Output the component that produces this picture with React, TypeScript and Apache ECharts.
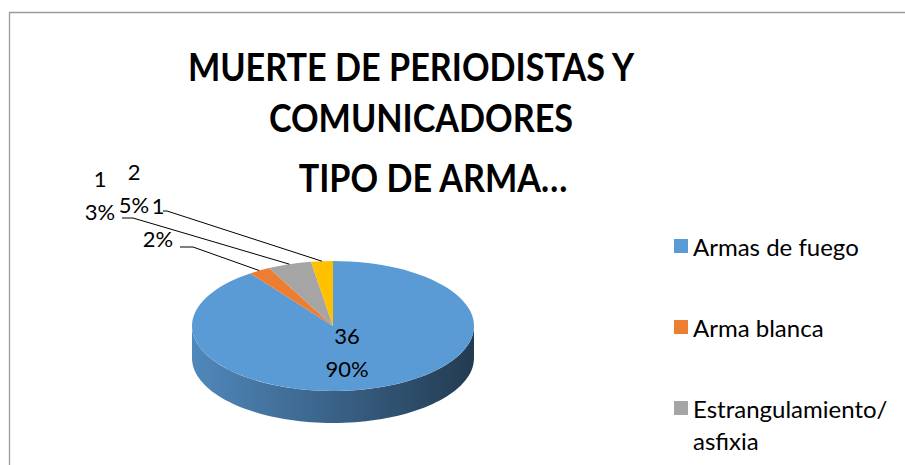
import React, { useEffect, useRef } from 'react';
import * as echarts from 'echarts';

// ---- data ----
const categories = ['Armas de fuego', 'Arma blanca', 'Estrangulamiento/asfixia', 'Otros'];
const values = [36, 1, 2, 1];
const percentLabels = ['90%', '2%', '5%', '3%'];
const colors = ['#5B9BD5', '#ED7D31', '#A5A5A5', '#FFC000'];
const legendNames = ['Armas de fuego', 'Arma blanca', 'Estrangulamiento/asfixia'];
const titleLines = ['MUERTE DE PERIODISTAS Y', 'COMUNICADORES', 'TIPO DE ARMA…'];

// ---- layout ----
const PIE = { cx: 333, cy: 326, rx: 141, ry: 65, depth: 32 };
const labelCenters: number[][] = [[347, 352], [158, 222], [134, 188], [100, 195]];
const leaderStarts: (number[][] | null)[] = [
  null,
  [[180, 247], [193, 247]],
  [[122, 218], [133, 218]],
  [[163, 211], [167, 211]],
];
const titlePos: number[][] = [[411, 66], [421, 117], [433, 177]];

function shade(hex: string, f: number): string {
  const h = hex.replace('#', '');
  const r = Math.round(parseInt(h.slice(0, 2), 16) * f);
  const g = Math.round(parseInt(h.slice(2, 4), 16) * f);
  const b = Math.round(parseInt(h.slice(4, 6), 16) * f);
  return 'rgb(' + r + ',' + g + ',' + b + ')';
}

function makeRender(i: number) {
  return (_params: any, api: any) => {
    const total = values.reduce((s, v) => s + v, 0);
    const before = values.slice(0, i).reduce((s, v) => s + v, 0);
    const v = api.value(0);
    const a0 = -Math.PI / 2 + (2 * Math.PI * before) / total;
    const a1 = a0 + (2 * Math.PI * v) / total;
    const children: any[] = [];
    const lo = Math.max(a0, 0);
    const hi = Math.min(a1, Math.PI);
    const c = colors[i];
    if (hi > lo) {
      const pts: number[][] = [];
      const n = 80;
      for (let k = 0; k <= n; k++) {
        const t = lo + ((hi - lo) * k) / n;
        pts.push([PIE.cx + PIE.rx * Math.cos(t), PIE.cy + PIE.ry * Math.sin(t)]);
      }
      for (let k = n; k >= 0; k--) {
        const t = lo + ((hi - lo) * k) / n;
        pts.push([PIE.cx + PIE.rx * Math.cos(t), PIE.cy + PIE.depth + PIE.ry * Math.sin(t)]);
      }
      children.push({
        type: 'polygon',
        shape: { points: pts },
        style: {
          fill: new echarts.graphic.LinearGradient(0, 0, 1, 0, [
            { offset: 0, color: shade(c, 0.88) },
            { offset: 0.45, color: shade(c, 0.66) },
            { offset: 1, color: shade(c, 0.38) },
          ]),
        },
      });
    }
    children.push({
      type: 'group',
      x: PIE.cx,
      y: PIE.cy,
      scaleY: PIE.ry / PIE.rx,
      children: [
        {
          type: 'sector',
          shape: { cx: 0, cy: 0, r0: 0, r: PIE.rx, startAngle: a0, endAngle: a1, clockwise: true },
          style: { fill: c },
        },
      ],
    });
    const ls = leaderStarts[i];
    if (ls) {
      const m = (a0 + a1) / 2;
      const edge = [PIE.cx + PIE.rx * Math.cos(m), PIE.cy + PIE.ry * Math.sin(m)];
      children.push({
        type: 'polyline',
        shape: { points: [ls[0], ls[1], edge] },
        style: { stroke: '#000', lineWidth: 1, fill: 'none' },
      });
    }
    const lc = labelCenters[i];
    children.push({
      type: 'text',
      x: lc[0],
      y: lc[1],
      style: {
        text: v + '\n' + percentLabels[i],
        fill: '#000',
        fontFamily: 'Lato',
        fontSize: 22,
        lineHeight: 33,
        align: 'center',
        verticalAlign: 'middle',
      },
    });
    return { type: 'group', children };
  };
}

export default function App() {
  const ref = useRef<HTMLDivElement>(null);
  useEffect(() => {
    if (!ref.current) return;
    const chart = echarts.init(ref.current, undefined, { renderer: 'svg' });
    chart.setOption({
      animation: false,
      backgroundColor: '#ffffff',
      color: colors,
      legend: {
        orient: 'vertical',
        left: 669,
        top: 193,
        itemWidth: 14,
        itemHeight: 14,
        icon: 'rect',
        itemGap: -15,
        selectedMode: false,
        data: legendNames,
        formatter: (name: string) =>
          '\n' + (name.indexOf('/') >= 0 ? name.replace('/', '/\n') : name + '\n'),
        textStyle: {
          fontFamily: 'Lato',
          fontSize: 24,
          color: '#000',
          lineHeight: 32,
        },
      },
      graphic: [
        {
          type: 'rect',
          silent: true,
          z: -10,
          shape: { x: 9.5, y: 12.5, width: 1000, height: 1000 },
          style: { fill: 'none', stroke: '#9a9a9a', lineWidth: 1.3 },
        },
        ...titleLines.map((t, k) => ({
          type: 'text',
          x: titlePos[k][0],
          y: titlePos[k][1],
          scaleX: 0.9,
          style: {
            text: t,
            fill: '#000',
            fontFamily: 'Lato',
            fontWeight: 'bold',
            fontSize: 38,
            align: 'center',
            verticalAlign: 'middle',
          },
        })),
      ],
      series: categories.map((name, i) => ({
        type: 'custom',
        name,
        coordinateSystem: 'none',
        silent: true,
        itemStyle: { color: colors[i] },
        data: [values[i]],
        renderItem: makeRender(i),
      })),
    });
    return () => chart.dispose();
  }, []);
  return <div ref={ref} style={{ position: 'absolute', left: 0, top: 0, width: 905, height: 465 }} />;
}
